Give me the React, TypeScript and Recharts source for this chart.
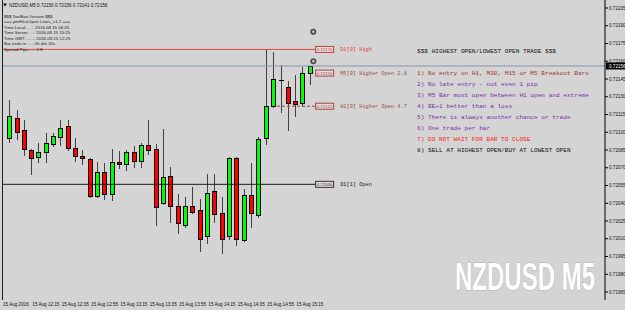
import React from 'react';
import { ComposedChart, Bar, XAxis, YAxis, ReferenceLine, ReferenceDot } from 'recharts';

// ---------- data ----------
const barTimes = [
  '12:00', '12:05', '12:10', '12:15', '12:20', '12:25', '12:30', '12:35', '12:40', '12:45', '12:50', '12:55',
  '13:00', '13:05', '13:10', '13:15', '13:20', '13:25', '13:30', '13:35', '13:40', '13:45', '13:50', '13:55',
  '14:00', '14:05', '14:10', '14:15', '14:20', '14:25', '14:30', '14:35', '14:40', '14:45', '14:50', '14:55',
  '15:00', '15:05', '15:10', '15:15', '15:20', '15:25',
];
const openPrices = [
  0.72095, 0.72112, 0.72102, 0.72085, 0.72079, 0.72083, 0.72090, 0.72096, 0.72105, 0.72087, 0.72080, 0.72077,
  0.72046, 0.72066, 0.72048, 0.72075, 0.72073, 0.72083, 0.72076, 0.72089, 0.72086, 0.72040, 0.72063, 0.72038,
  0.72022, 0.72038, 0.72034, 0.72012, 0.72050, 0.72032, 0.72012, 0.72078, 0.72009, 0.72047, 0.72030, 0.72095,
  0.72122, 0.72144, 0.72138, 0.72126, 0.72125, 0.72150,
];
const highPrices = [
  0.72127, 0.72119, 0.72110, 0.72086, 0.72091, 0.72099, 0.72099, 0.72110, 0.72110, 0.72095, 0.72085, 0.72078,
  0.72075, 0.72074, 0.72086, 0.72084, 0.72085, 0.72088, 0.72091, 0.72110, 0.72090, 0.72103, 0.72071, 0.72048,
  0.72045, 0.72054, 0.72044, 0.72065, 0.72065, 0.72045, 0.72079, 0.72079, 0.72052, 0.72074, 0.72096, 0.72170,
  0.72168, 0.72157, 0.72143, 0.72148, 0.72155, 0.72156,
];
const lowPrices = [
  0.72092, 0.72094, 0.72081, 0.72065, 0.72075, 0.72075, 0.72088, 0.72089, 0.72085, 0.72076, 0.72073, 0.72045,
  0.72045, 0.72044, 0.72043, 0.72070, 0.72068, 0.72071, 0.72071, 0.72082, 0.72022, 0.72039, 0.72024, 0.72015,
  0.72020, 0.72032, 0.72000, 0.72006, 0.72024, 0.71998, 0.72010, 0.72005, 0.72008, 0.72020, 0.72028, 0.72090,
  0.72121, 0.72117, 0.72102, 0.72114, 0.72122, 0.72141,
];
const closePrices = [
  0.72114, 0.72100, 0.72086, 0.72078, 0.72083, 0.72091, 0.72097, 0.72104, 0.72087, 0.72080, 0.72078, 0.72046,
  0.72066, 0.72048, 0.72075, 0.72073, 0.72083, 0.72076, 0.72089, 0.72085, 0.72037, 0.72062, 0.72038, 0.72023,
  0.72038, 0.72033, 0.72010, 0.72049, 0.72031, 0.72010, 0.72078, 0.72010, 0.72047, 0.72032, 0.72094, 0.72122,
  0.72145, 0.72144, 0.72125, 0.72124, 0.72150, 0.72156,
];

const timeTickBars = [-1, 3, 7, 11, 15, 19, 23, 27, 31, 35, 39];
const timeTickLabels = [
  '15 Aug 2016', '15 Aug 12:15', '15 Aug 12:35', '15 Aug 12:55', '15 Aug 13:15', '15 Aug 13:35',
  '15 Aug 13:55', '15 Aug 14:15', '15 Aug 14:35', '15 Aug 14:55', '15 Aug 15:15',
];
const priceTicks = [
  0.72205, 0.7219, 0.72175, 0.7216, 0.72145, 0.7213, 0.72115, 0.721, 0.72085, 0.7207, 0.72055, 0.7204,
  0.72025, 0.7201, 0.71995, 0.7198, 0.71965,
];

const bidPrice = 0.72156;
const d1High = 0.7217;
const m5Open = 0.7215;
const h1Open = 0.72122;
const d1PrevOpen = 0.72056;
const arrowPrices = [0.72185, 0.7216];

const headerText = 'NZDUSD,M5  0.72150 0.72156 0.72141 0.72156';
const infoLines = [
  '$$$ ToolBox Version $$$',
  '=== pmHiLoOpen Lines_v1.2 ===',
  'Time Local......: 2016.08.15 06:25',
  'Time Server.....: 2016.08.15 15:25',
  'Time GMT........: 2016.08.15 12:25',
  'Bar ends in.....: 0h 4m 20s',
  'Spread Pips.....: 1.8',
];
const ruleTitle = '$$$ HIGHEST OPEN/LOWEST OPEN TRADE $$$';
const ruleLines = [
  '1) No entry on H1, M30, M15 or M5 Breakout Bars',
  '2) No late entry - not even 1 pip',
  '3) M5 Bar must open between H1 open and extreme',
  '4) BE+1 better than a loss',
  '5) There is always another chance or trade',
  '6) One trade per bar',
  '7) DO NOT WAIT FOR BAR TO CLOSE',
  '8) SELL AT HIGHEST OPEN/BUY AT LOWEST OPEN',
];
const ruleColors = ['#a83030', '#7a2fa8', '#7a2fa8', '#7a2fa8', '#7a2fa8', '#7a2fa8', '#ff2020', '#101010'];
const watermark = 'NZDUSD M5';

// ---------- layout ----------
const W = 625;
const H = 310;
const PLOT_LEFT = 2;
const PLOT_RIGHT = 605;
const PLOT_BOTTOM = 300;
const BAR_STEP = 22 / 3;
const X_MIN = -1;
const X_MAX = X_MIN + (PLOT_RIGHT - PLOT_LEFT) / BAR_STEP;
const PAD_LEFT = BAR_STEP / 2;
const PAD_RIGHT = PLOT_RIGHT - PLOT_LEFT - PAD_LEFT - barTimes.length * BAR_STEP;
const PX_PER_PRICE = 17.75 / 0.00015;
const Y_MAX = 0.72205 + 8 / PX_PER_PRICE;
const Y_MIN = 0.72205 - (PLOT_BOTTOM - 8) / PX_PER_PRICE;
const LEVEL_END = 41.7;
const H1_START = 36.5;

const SANS = "'Liberation Sans', Arial, sans-serif";
const MONO = "'Liberation Mono', 'DejaVu Sans Mono', monospace";

const candles = barTimes.map((t, i) => ({
  t,
  i,
  o: openPrices[i],
  h: highPrices[i],
  l: lowPrices[i],
  c: closePrices[i],
  range: [lowPrices[i], highPrices[i]],
}));

const Candle = (props: any) => {
  const { x, y, width, height, payload } = props;
  if (!payload || x == null) return null;
  const { o, h, l, c } = payload;
  const top = Math.min(y, y + height);
  const hgt = Math.abs(height);
  const py = (p: number) => top + ((h - p) / (h - l)) * hgt;
  const n = Math.round(x + width / 2);
  const wx = n + 0.5;
  const bull = c > o;
  const bear = c < o;
  const yt = Math.round(py(Math.max(o, c))) + 0.5;
  const yb = Math.round(py(Math.min(o, c))) + 0.5;
  return (
    <g>
      <line x1={wx} x2={wx} y1={Math.round(py(h))} y2={Math.round(py(l)) + 1} stroke="#404040" strokeWidth={1} />
      {bull || bear ? (
        <rect
          x={n - 1.5}
          y={yt}
          width={4}
          height={Math.max(yb - yt, 1)}
          fill={bull ? '#00ff00' : '#ff0000'}
          stroke="#000"
          strokeWidth={1}
        />
      ) : (
        <line x1={n - 2} x2={n + 3} y1={yt} y2={yt} stroke="#000" strokeWidth={1} />
      )}
    </g>
  );
};

const XTick = (props: any) => {
  const { x, payload } = props;
  const idx = timeTickBars.indexOf(payload.value);
  return (
    <text x={x + 1} y={PLOT_BOTTOM + 6.3} fontSize={4.6} fontFamily={SANS} fill="#111" textAnchor="start">
      {timeTickLabels[idx]}
    </text>
  );
};

const YTick = (props: any) => {
  const { y, payload } = props;
  return (
    <text x={PLOT_RIGHT + 4} y={y + 1.7} fontSize={4.6} fontFamily={SANS} fill="#111" textAnchor="start">
      {Number(payload.value).toFixed(5)}
    </text>
  );
};

const BidTag = (props: any) => {
  const { cx, cy } = props;
  if (cx == null) return null;
  return (
    <g>
      <rect x={PLOT_RIGHT + 1} y={cy - 3.5} width={W - PLOT_RIGHT - 1} height={7} fill="#000" />
      <text x={PLOT_RIGHT + 4} y={cy + 1.7} fontSize={4.6} fontFamily={SANS} fill="#fff">
        {bidPrice.toFixed(5)}
      </text>
    </g>
  );
};

const makeLevelTag = (price: number, text: string, color: string, boxStroke: string) => (props: any) => {
  const { cx, cy } = props;
  if (cx == null) return null;
  return (
    <g>
      <rect x={cx + 0.5} y={cy - 3} width={18} height={6} fill="#e6dada" stroke={boxStroke} strokeWidth={1} />
      <text x={cx + 9.5} y={cy + 1.6} fontSize={4.4} fontFamily={SANS} fill={boxStroke} textAnchor="middle">
        {price.toFixed(5)}
      </text>
      <text x={cx + 25} y={cy + 1.7} fontSize={5.3} fontFamily={MONO} fill={color}>
        {text}
      </text>
    </g>
  );
};

const ArrowIcon = (props: any) => {
  const { cx, cy } = props;
  if (cx == null) return null;
  return (
    <g>
      <circle cx={cx} cy={cy} r={3} fill="#4a4a4a" />
      <circle cx={cx} cy={cy} r={1.4} fill="#b8b8b8" />
    </g>
  );
};

// natural width of the watermark in Liberation Sans Bold at 39px is ~227px; squeeze to ~140px
const WM_SCALE = 140 / 227.5;

export default function App() {
  return (
    <div style={{ position: 'absolute', left: 0, top: 0, width: W, height: H, background: '#d4d4d4', overflow: 'hidden' }}>
      <ComposedChart
        width={W}
        height={H}
        data={candles}
        margin={{ top: 0, right: 0, bottom: 0, left: PLOT_LEFT }}
        barCategoryGap={0}
        style={{ position: 'absolute', left: 0, top: 0 }}
      >
        <XAxis xAxisId="c" dataKey="t" type="category" hide padding={{ left: PAD_LEFT, right: PAD_RIGHT }} />
        <XAxis
          xAxisId="t"
          dataKey="i"
          type="number"
          domain={[X_MIN, X_MAX]}
          allowDataOverflow
          ticks={timeTickBars}
          interval={0}
          height={H - PLOT_BOTTOM}
          tick={<XTick />}
          tickSize={2}
          axisLine={{ stroke: '#000' }}
          tickLine={{ stroke: '#000' }}
        />
        <YAxis
          yAxisId="p"
          orientation="right"
          type="number"
          width={W - PLOT_RIGHT}
          domain={[Y_MIN, Y_MAX]}
          allowDataOverflow
          ticks={priceTicks}
          interval={0}
          tick={<YTick />}
          tickSize={3}
          axisLine={{ stroke: '#000' }}
          tickLine={{ stroke: '#000' }}
        />
        <ReferenceLine xAxisId="t" yAxisId="p" y={bidPrice} stroke="#8496a6" strokeWidth={1} />
        <ReferenceLine
          xAxisId="t"
          yAxisId="p"
          segment={[{ x: X_MIN, y: d1High }, { x: LEVEL_END, y: d1High }]}
          stroke="#e04848"
          strokeWidth={1}
        />
        <ReferenceLine
          xAxisId="t"
          yAxisId="p"
          segment={[{ x: X_MIN, y: d1PrevOpen }, { x: LEVEL_END, y: d1PrevOpen }]}
          stroke="#1a1a1a"
          strokeWidth={1}
        />
        <ReferenceLine
          xAxisId="t"
          yAxisId="p"
          segment={[{ x: H1_START, y: h1Open }, { x: LEVEL_END, y: h1Open }]}
          stroke="#a04848"
          strokeWidth={1}
          strokeDasharray="3 2"
        />
        <Bar xAxisId="c" yAxisId="p" dataKey="range" barSize={5} shape={<Candle />} isAnimationActive={false} />
        <ReferenceDot xAxisId="t" yAxisId="p" x={LEVEL_END} y={d1High} shape={makeLevelTag(d1High, 'D1[0] High', '#e03c3c', '#c04040')} />
        <ReferenceDot xAxisId="t" yAxisId="p" x={LEVEL_END} y={m5Open} shape={makeLevelTag(m5Open, 'M5[0] Higher Open 2.8', '#a04848', '#a04848')} />
        <ReferenceDot xAxisId="t" yAxisId="p" x={LEVEL_END} y={h1Open} shape={makeLevelTag(h1Open, 'H1[0] Higher Open 4.7', '#a04848', '#a04848')} />
        <ReferenceDot xAxisId="t" yAxisId="p" x={LEVEL_END} y={d1PrevOpen} shape={makeLevelTag(d1PrevOpen, 'D1[1] Open', '#1a1a1a', '#303030')} />
        {arrowPrices.map((p, k) => (
          <ReferenceDot key={k} xAxisId="t" yAxisId="p" x={41.45} y={p} shape={<ArrowIcon />} />
        ))}
        <ReferenceDot xAxisId="t" yAxisId="p" x={X_MAX} y={bidPrice} ifOverflow="visible" shape={<BidTag />} />
      </ComposedChart>
      <svg width={W} height={H} style={{ position: 'absolute', left: 0, top: 0, pointerEvents: 'none' }}>
        <line x1={PLOT_LEFT + 0.5} x2={PLOT_LEFT + 0.5} y1={0} y2={PLOT_BOTTOM} stroke="#202020" strokeWidth={1} />
        <path d="M3 3.5 L7 3.5 L5 6.5 Z" fill="#111" />
        <text x={9} y={6.6} fontSize={4.6} fontFamily={SANS} fill="#111">{headerText}</text>
        {infoLines.map((s, k) => (
          <text key={k} x={4} y={[17.5, 23.2, 28.8, 34.3, 39.8, 45.3, 50.8][k]} fontSize={4.4} fontFamily={SANS} fill="#222">
            {s}
          </text>
        ))}
        <text x={417} y={52.8} fontSize={6.1} fontFamily={MONO} fill="#111">{ruleTitle}</text>
        {ruleLines.map((s, k) => (
          <text key={k} x={417} y={75.2 + k * 10.95} fontSize={6.1} fontFamily={MONO} fill={ruleColors[k]}>
            {s}
          </text>
        ))}
        <g transform={`translate(455 290) scale(${WM_SCALE} 1)`}>
          <text
            x={0}
            y={0}
            fontSize={39}
            fontWeight="bold"
            fontFamily={SANS}
            fill="#ffffff"
            stroke="#b4b4b4"
            strokeWidth={1.2}
            paintOrder="stroke"
          >
            {watermark}
          </text>
        </g>
      </svg>
    </div>
  );
}
